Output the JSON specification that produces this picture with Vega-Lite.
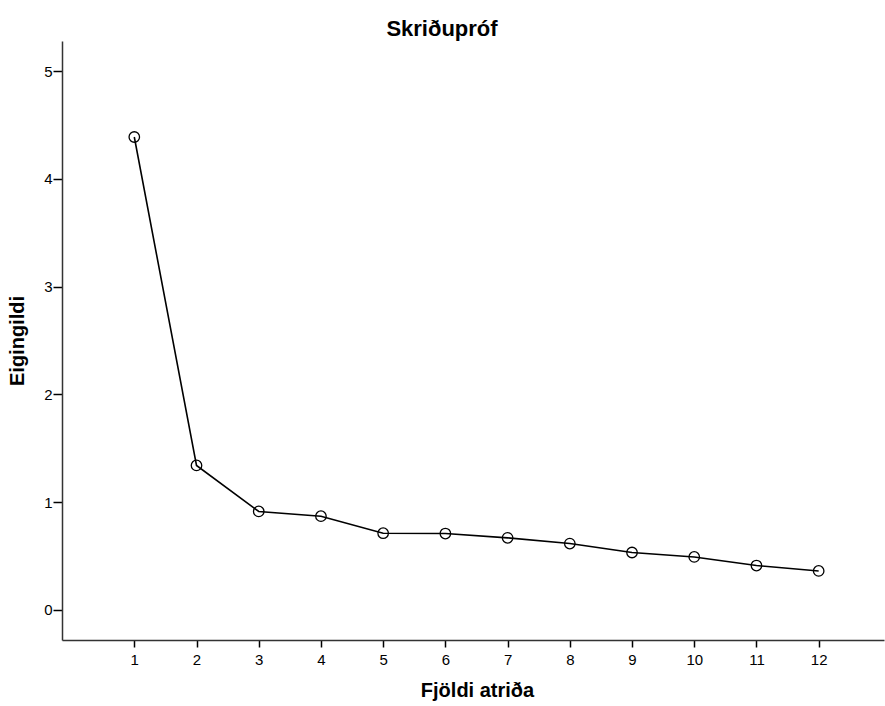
{
  "$schema": "https://vega.github.io/schema/vega-lite/v6.json",
  "autosize": "none",
  "width": 822,
  "height": 599,
  "padding": {"left": 62, "top": 41, "right": 1, "bottom": 66},
  "background": "white",
  "title": {"text": "Skriðupróf", "font": "Liberation Sans", "fontSize": 22, "fontWeight": "bold", "color": "black", "anchor": "middle", "dx": -31, "offset": 0},
  "config": {"view": {"stroke": null}},
  "data": {"values": [
    {"atridi": 1, "eigingildi": 4.389},
    {"atridi": 2, "eigingildi": 1.341},
    {"atridi": 3, "eigingildi": 0.914},
    {"atridi": 4, "eigingildi": 0.870},
    {"atridi": 5, "eigingildi": 0.712},
    {"atridi": 6, "eigingildi": 0.709},
    {"atridi": 7, "eigingildi": 0.669},
    {"atridi": 8, "eigingildi": 0.616},
    {"atridi": 9, "eigingildi": 0.533},
    {"atridi": 10, "eigingildi": 0.492},
    {"atridi": 11, "eigingildi": 0.412},
    {"atridi": 12, "eigingildi": 0.362}
  ]},
  "encoding": {
    "x": {"field": "atridi", "type": "quantitative",
      "scale": {"domain": [-0.162, 13.05], "nice": false, "zero": false},
      "axis": {"title": "Fjöldi atriða", "values": [1,2,3,4,5,6,7,8,9,10,11,12], "grid": false,
        "domainColor": "#333333", "domainWidth": 1.5, "tickColor": "black", "tickWidth": 1.5, "tickSize": 7,
        "labelFont": "Liberation Sans", "labelFontSize": 15, "labelColor": "black", "labelPadding": 5,
        "titleFont": "Liberation Sans", "titleFontSize": 20, "titleFontWeight": "bold", "titleColor": "black", "titlePadding": 13, "titleX": 415}},
    "y": {"field": "eigingildi", "type": "quantitative",
      "scale": {"domain": [-0.279, 5.28], "nice": false, "zero": false},
      "axis": {"title": "Eigingildi", "values": [0,1,2,3,4,5], "grid": false,
        "domainColor": "#333333", "domainWidth": 1.5, "tickColor": "black", "tickWidth": 1.5, "tickSize": 9,
        "labelFont": "Liberation Sans", "labelFontSize": 15, "labelColor": "black", "labelPadding": 1,
        "titleFont": "Liberation Sans", "titleFontSize": 20, "titleFontWeight": "bold", "titleColor": "black", "titlePadding": 16}}
  },
  "layer": [
    {"mark": {"type": "line", "color": "black", "strokeWidth": 1.6}},
    {"mark": {"type": "point", "shape": "circle", "size": 110, "filled": false, "color": "black", "fill": "white", "fillOpacity": 0, "strokeWidth": 1.3, "opacity": 1}}
  ]
}
